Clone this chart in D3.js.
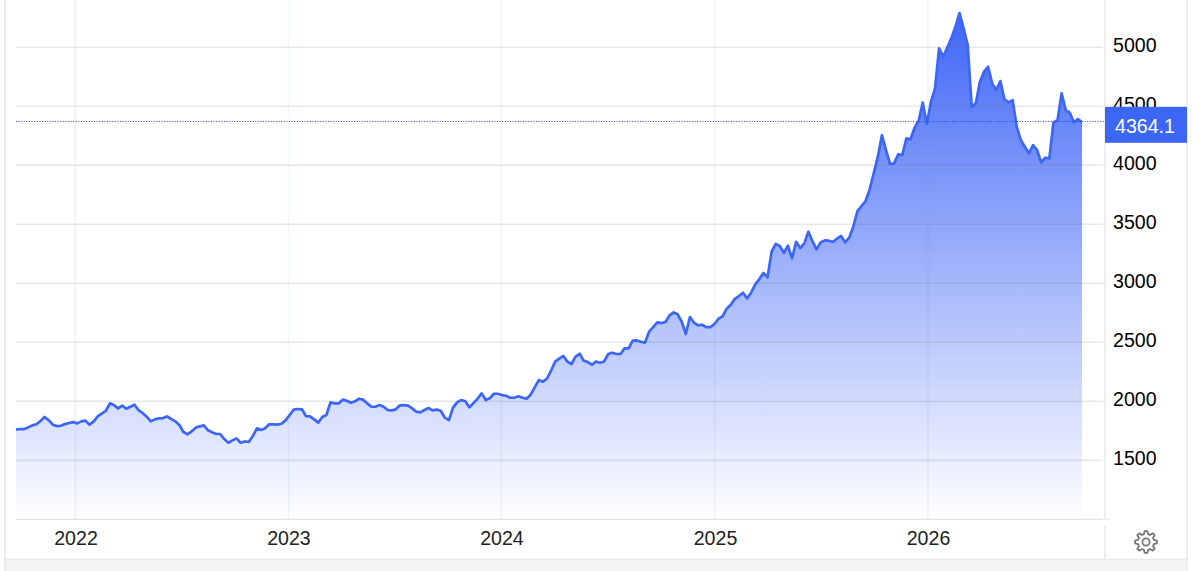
<!DOCTYPE html>
<html><head><meta charset="utf-8">
<script src="https://d3js.org/d3.v7.min.js"></script>
<style>
html,body{margin:0;padding:0;background:#fff;overflow:hidden}
svg{display:block}
text{font-family:"Liberation Sans",Arial,sans-serif}
</style></head><body>
<svg id="c" width="1200" height="571"></svg>
<script>
const startDate = "2021-09-21";
const yTicks = [1500,2000,2500,3000,3500,4000,4500,5000];
const lastLabel = "4364.1";
const weeklyClose = [
1760,1765,1765,1779,1796,1805,1833,1867,1841,1802,1790,1793,1807,1816,1824,1813,1830,1836,1802,1827,
1872,1895,1920,1983,1968,1940,1963,1937,1954,1971,1926,1901,1870,1830,1847,1855,1858,1872,1850,1830,
1799,1740,1720,1745,1776,1788,1796,1754,1737,1723,1723,1680,1649,1669,1686,1649,1660,1655,1706,1771,
1757,1771,1805,1805,1802,1810,1838,1884,1929,1935,1932,1875,1872,1847,1819,1867,1884,1991,1982,1982,
2014,2005,1988,2000,2022,2014,1982,1954,1954,1968,1954,1926,1923,1932,1966,1968,1963,1940,1912,1906,
1926,1943,1923,1929,1920,1861,1841,1946,1991,2011,2000,1949,1985,2022,2067,2011,2025,2064,2064,2053,
2047,2030,2030,2042,2030,2022,2056,2118,2180,2166,2192,2259,2336,2361,2384,2336,2316,2378,2403,2344,
2333,2310,2336,2327,2338,2401,2412,2401,2401,2449,2449,2514,2516,2505,2497,2590,2629,2669,2663,2672,
2728,2753,2737,2674,2570,2714,2666,2643,2649,2629,2629,2655,2700,2720,2785,2818,2869,2892,2920,2872,
2923,2991,3036,3087,3050,3268,3333,3316,3259,3318,3211,3352,3299,3338,3437,3358,3288,3347,3364,3361,
3350,3378,3401,3347,3387,3480,3610,3655,3697,3796,3932,4073,4255,4129,4011,4016,4093,4087,4228,4220,
4319,4378,4531,4350,4535,4650,4991,4920,4999,5076,5174,5290,5160,5019,4496,4525,4708,4793,4835,4694,
4638,4714,4559,4533,4553,4327,4214,4157,4101,4171,4129,4025,4064,4059,4364,4383,4609,4468,4446,4364,
4392,4364.1
];
const gearRadii = [11,11,8.2,8.2];

const svg = d3.select("#c");
const dayMs = 864e5;
const t0 = new Date(startDate + "T00:00:00Z");
const data = weeklyClose.map((v,i)=>({date:new Date(+t0 + i*7*dayMs), v}));

const x = d3.scaleUtc()
  .domain([new Date(Date.UTC(2022,0,1)), new Date(Date.UTC(2026,0,1))])
  .range([75.5, 928]);
const y = d3.scaleLinear().domain([1000,5000]).range([519.3,47.3]);
const left = 16, right = 1103, bottom = y(1000);

// frame
svg.append("rect").attr("x",4).attr("y",0).attr("width",1184).attr("height",560).attr("fill","#fff");
svg.append("rect").attr("x",5).attr("y",559).attr("width",1182).attr("height",12).attr("fill","#f4f4f4");
svg.append("line").attr("x1",5).attr("x2",1187).attr("y1",559.2).attr("y2",559.2).attr("stroke","#e4e4e4").attr("stroke-width",1);
svg.append("line").attr("x1",5).attr("x2",5).attr("y1",0).attr("y2",571).attr("stroke","#e6e6e6").attr("stroke-width",1.4);
svg.append("line").attr("x1",1187).attr("x2",1187).attr("y1",0).attr("y2",571).attr("stroke","#e4e4e4").attr("stroke-width",1.2);

// gradient
const defs = svg.append("defs");
const grad = defs.append("linearGradient").attr("id","fillGrad").attr("gradientUnits","userSpaceOnUse")
  .attr("x1",0).attr("x2",0).attr("y1",y(5290)).attr("y2",bottom);
grad.append("stop").attr("offset",0).attr("stop-color","#3f66f6").attr("stop-opacity",1);
grad.append("stop").attr("offset",1).attr("stop-color","#3f66f6").attr("stop-opacity",0);

const years = d3.utcYear.range(new Date(Date.UTC(2022,0,1)), new Date(Date.UTC(2027,0,1)));

// area + grids + line
svg.append("path").datum(data)
  .attr("d",d3.area().x(d=>x(d.date)).y0(bottom).y1(d=>y(d.v)))
  .attr("fill","url(#fillGrad)");
svg.append("g").selectAll("line").data(years).join("line")
  .attr("x1",d=>x(d)).attr("x2",d=>x(d)).attr("y1",0).attr("y2",bottom)
  .attr("stroke","#4f78c8").attr("stroke-opacity",0.09).attr("stroke-width",1.5);
svg.append("g").selectAll("line").data(yTicks).join("line")
  .attr("x1",left).attr("x2",right).attr("y1",d=>y(d)).attr("y2",d=>y(d))
  .attr("stroke","#707070").attr("stroke-opacity",0.17).attr("stroke-width",1.6);
svg.append("path").datum(data)
  .attr("d",d3.line().x(d=>x(d.date)).y(d=>y(d.v)))
  .attr("fill","none").attr("stroke","#3c66f6").attr("stroke-width",2.7).attr("stroke-linejoin","round");

// axes lines
svg.append("line").attr("x1",left).attr("x2",right).attr("y1",bottom).attr("y2",bottom).attr("stroke","#e2e2e2").attr("stroke-width",1.2);
svg.append("line").attr("x1",1104).attr("x2",1111).attr("y1",bottom).attr("y2",bottom).attr("stroke","#efefef").attr("stroke-width",1.2);
svg.append("line").attr("x1",1105).attr("x2",1105).attr("y1",0).attr("y2",518).attr("stroke","#e4e4e4").attr("stroke-width",1.2);
svg.append("line").attr("x1",1105).attr("x2",1105).attr("y1",526).attr("y2",559).attr("stroke","#e4e4e4").attr("stroke-width",1.2);

// axes labels
const yAxis = d3.axisRight(y).tickValues(yTicks).tickSize(0).tickPadding(0).tickFormat(d3.format("d"));
const gy = svg.append("g").attr("transform","translate(1113,-2.5)").call(yAxis);
gy.select(".domain").remove();
gy.selectAll("text").attr("fill","#000").style("font-size","19.6px").style("font-family",'"Liberation Sans",Arial,sans-serif');

const xAxis = d3.axisBottom(x).tickValues(years.filter(d=>d.getUTCFullYear()<=2026)).tickSize(0).tickPadding(0).tickFormat(d3.utcFormat("%Y"));
const gx = svg.append("g").attr("transform","translate(0,531.5)").call(xAxis);
gx.select(".domain").remove();
gx.selectAll("text").attr("fill","#222").style("font-size","19.6px").style("font-family",'"Liberation Sans",Arial,sans-serif');

// last value marker
const last = data[data.length-1];
svg.append("line").attr("x1",left).attr("x2",1105).attr("y1",y(last.v)-0.8).attr("y2",y(last.v)-0.8)
  .attr("stroke","#2648c8").attr("stroke-width",1).attr("stroke-dasharray","1 1.6");
svg.append("rect").attr("x",1105).attr("y",106.8).attr("width",82).attr("height",36).attr("fill","#3c66f6");
svg.append("text").attr("x",1145).attr("y",132.5).attr("text-anchor","middle").attr("fill","#fff").style("font-size","19.6px").text(lastLabel);

// gear
const teeth = 8, pts = [];
for (let i=0;i<teeth;i++){
  gearRadii.forEach((r,j)=>{
    const a = (i + [-0.16,0.16,0.32,0.68][j]) * 2*Math.PI/teeth;
    pts.push([a,r]);
  });
}
const gear = svg.append("g").attr("transform","translate(1146,542)");
gear.append("path").attr("d",d3.lineRadial().curve(d3.curveLinearClosed)(pts))
  .attr("fill","none").attr("stroke","#777").attr("stroke-width",1.8).attr("stroke-linejoin","round");
gear.append("circle").attr("r",3.6).attr("fill","none").attr("stroke","#777").attr("stroke-width",1.8);
</script>
</body></html>
